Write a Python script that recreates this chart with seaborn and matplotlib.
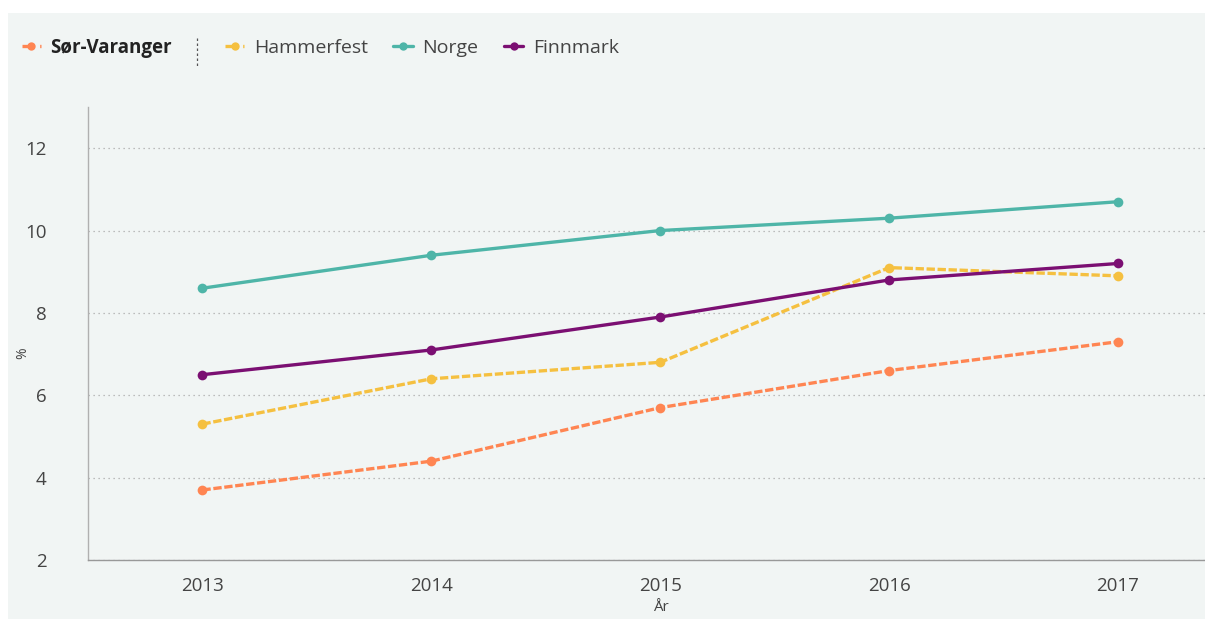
import numpy as np
import pandas as pd
import matplotlib
matplotlib.use("Agg")
import matplotlib.pyplot as plt
from matplotlib.lines import Line2D
from matplotlib.patches import Rectangle
import seaborn as sns

years = [2013, 2014, 2015, 2016, 2017]
sor_varanger = [3.7, 4.4, 5.7, 6.6, 7.3]
hammerfest = [5.3, 6.4, 6.8, 9.1, 8.9]
norge = [8.6, 9.4, 10.0, 10.3, 10.7]
finnmark = [6.5, 7.1, 7.9, 8.8, 9.2]

series_names = ["Sør-Varanger", "Hammerfest", "Norge", "Finnmark"]
colors = {"Sør-Varanger": "#ff8552", "Hammerfest": "#f5c040",
          "Norge": "#4eb5a8", "Finnmark": "#7b0f72"}
dashes = {"Sør-Varanger": (2.5, 0.8), "Hammerfest": (2.5, 0.8),
          "Norge": "", "Finnmark": ""}

df = pd.DataFrame({
    "År": years * 4,
    "%": sor_varanger + hammerfest + norge + finnmark,
    "region": [n for n in series_names for _ in years],
})

sns.set_style("white")
plt.rcParams["font.family"] = ["Open Sans", "DejaVu Sans"]

bg = "#f1f5f4"
fig = plt.figure(figsize=(12.05, 6.19), dpi=100, facecolor="white")
fig.add_artist(Rectangle((8 / 1205, 0), 1, 1 - 13 / 619, transform=fig.transFigure,
                         facecolor=bg, edgecolor="none", zorder=-10))

ax = fig.add_axes([88 / 1205, 1 - 560 / 619, (1205 - 88) / 1205, (560 - 107) / 619])
ax.set_facecolor(bg)

sns.lineplot(data=df, x="År", y="%", hue="region", style="region",
             hue_order=series_names, style_order=series_names,
             palette=colors, dashes=dashes, markers={n: "o" for n in series_names},
             markersize=7, markeredgewidth=0, linewidth=2.4, legend=False, ax=ax)

ax.set_xlim(2012.5, 2017.38)
ax.set_ylim(2, 13)
ax.set_xticks(years)
ax.set_yticks([2, 4, 6, 8, 10, 12])
ax.grid(axis="y", color="#aaaaaa", linestyle=(0, (1, 3)), linewidth=0.9)
ax.tick_params(axis="both", length=0, labelsize=13.5, labelcolor="#444444")
ax.tick_params(axis="x", pad=12)
ax.tick_params(axis="y", pad=30)

for s in ["top", "right"]:
    ax.spines[s].set_visible(False)
ax.spines["left"].set_color("#b0b0b0")
ax.spines["left"].set_linewidth(1)
ax.spines["bottom"].set_color("#999999")
ax.spines["bottom"].set_linestyle((0, (1, 1)))
ax.spines["bottom"].set_linewidth(1)

# label sits a little higher than in the source so it is not clipped
ax.set_xlabel("År", fontsize=11, color="#444444")
ax.xaxis.set_label_coords((661 - 88) / 1117, -(600 - 560) / 453)
ax.set_ylabel("%", fontsize=10, color="#444444")
ax.yaxis.set_label_coords(-(88 - 30) / 1117, (560 - 353) / 453)


def handle(n):
    return Line2D([], [], color=colors[n], linestyle="--" if dashes[n] else "-",
                  marker="o", markersize=6, markeredgewidth=0, linewidth=2.4)


leg_y = 1 - 48 / 619
leg1 = fig.legend([handle(series_names[0])], series_names[:1], loc="center left",
                  frameon=False, bbox_to_anchor=(22 / 1205, leg_y), fontsize=13.5,
                  handlelength=1.0, handletextpad=0.5, borderpad=0, borderaxespad=0,
                  labelcolor="#222222")
leg1.get_texts()[0].set_fontweight("bold")
fig.legend([handle(n) for n in series_names[1:]], series_names[1:], loc="center left",
           ncol=3, frameon=False, bbox_to_anchor=(225 / 1205, leg_y), fontsize=14,
           handlelength=1.0, handletextpad=0.5, columnspacing=1.3, borderpad=0,
           borderaxespad=0, labelcolor="#444444")
fig.add_artist(Line2D([197 / 1205, 197 / 1205], [1 - 38 / 619, 1 - 67 / 619],
                      transform=fig.transFigure, color="#555555",
                      linestyle=(0, (2, 2)), linewidth=0.9))

fig.savefig("out.png", dpi=100, facecolor="white")
